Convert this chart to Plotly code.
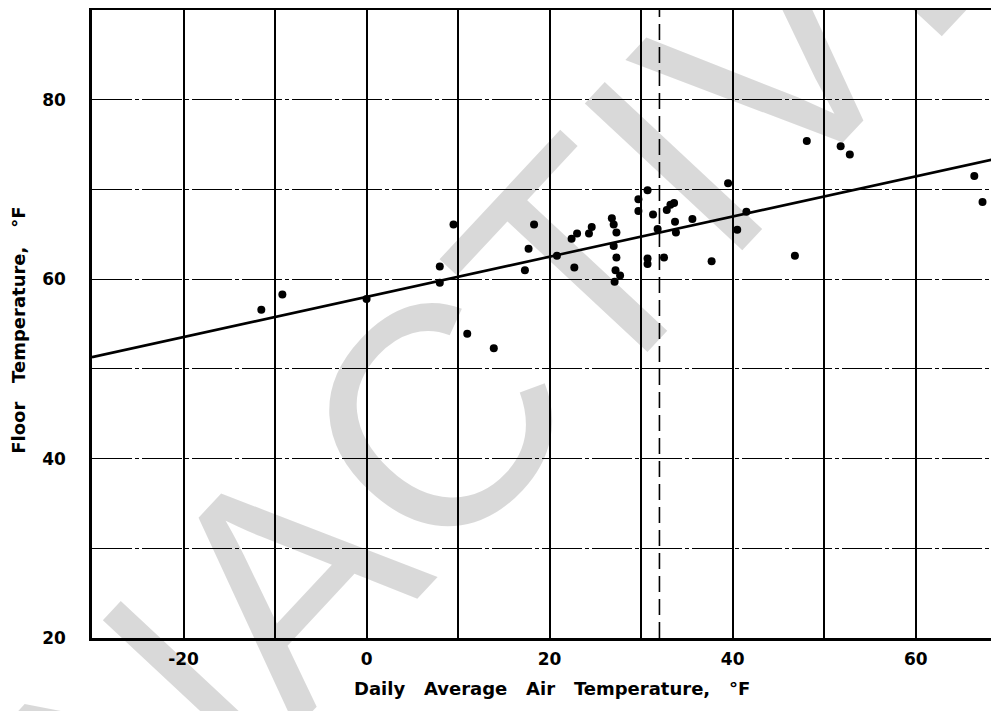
import plotly.graph_objects as go

# Daily average air temperature (°F) vs floor temperature (°F)
air_temp = [-11.5, -9.2, 0.0, 8.0, 8.0, 9.5, 11.0, 13.9, 17.3, 17.7,
            18.3, 20.8, 22.7, 22.4, 23.0, 24.3, 24.6, 26.8, 27.0, 27.3,
            27.0, 27.3, 27.2, 27.7, 27.1, 29.7, 29.7, 30.7, 31.3, 30.7,
            30.7, 31.8, 32.5, 32.8, 33.2, 33.6, 33.7, 33.8, 35.6, 37.7,
            39.5, 40.5, 41.5, 46.8, 48.1, 51.8, 52.8, 66.4, 67.3]
floor_temp = [56.6, 58.3, 57.8, 61.4, 59.6, 66.1, 53.9, 52.3, 61.0, 63.4,
              66.1, 62.6, 61.3, 64.5, 65.1, 65.1, 65.8, 66.8, 66.1, 65.2,
              63.7, 62.4, 61.0, 60.4, 59.7, 68.9, 67.6, 69.9, 67.2, 62.3,
              61.7, 65.6, 62.4, 67.7, 68.3, 68.5, 66.4, 65.2, 66.7, 62.0,
              70.7, 65.5, 67.5, 62.6, 75.4, 74.8, 73.9, 71.5, 68.6]

# regression line end points
fit_x = [-30, 70]
fit_y = [51.3, 73.7]

freeze_x = 32

x_ticks = [-30, -20, -10, 0, 10, 20, 30, 40, 50, 60, 70]
x_labels = ["", "-20", "", "0", "", "20", "", "40", "", "60", ""]
y_ticks = [20, 30, 40, 50, 60, 70, 80, 90]
y_labels = ["20", "", "40", "", "60", "", "80", ""]

font_family = "DejaVu Sans"
gap = "\u00a0\u00a0\u00a0"

fig = go.Figure()

fig.add_trace(go.Scatter(x=fit_x, y=fit_y, mode="lines",
                         line=dict(color="black", width=2.6),
                         hoverinfo="skip", showlegend=False))

fig.add_trace(go.Scatter(x=air_temp, y=floor_temp, mode="markers",
                         marker=dict(color="black", size=8),
                         showlegend=False))

fig.add_vline(x=freeze_x, line=dict(color="black", width=1.6, dash="16px,7px"))

fig.update_xaxes(range=[-30, 69.1], tickvals=x_ticks, ticktext=x_labels,
                 showgrid=True, gridcolor="black", gridwidth=1.8, zeroline=False,
                 showline=True, linecolor="black", linewidth=2.5, mirror=True,
                 ticks="", ticklabelstandoff=4,
                 tickfont=dict(family=font_family, size=17, color="black", weight="bold"))

fig.update_yaxes(range=[20, 90], tickvals=y_ticks, ticktext=y_labels,
                 showgrid=True, gridcolor="black", gridwidth=1.3,
                 griddash="40px,3px,4px,3px", zeroline=False,
                 showline=True, linecolor="black", linewidth=2.5,
                 ticks="", ticklabelstandoff=20,
                 tickfont=dict(family=font_family, size=17, color="black", weight="bold"))

fig.add_annotation(text=gap.join(["Daily", "Average", "Air", "Temperature,", "\u00b0F"]),
                   xref="paper", yref="paper", x=0.507, y=-0.08,
                   xanchor="center", yanchor="middle", showarrow=False,
                   font=dict(family=font_family, size=18, color="black", weight="bold"))

fig.add_annotation(text=gap.join(["Floor", "Temperature,", "\u00b0F"]),
                   xref="paper", yref="paper", x=-0.081, y=0.49, textangle=-90,
                   xanchor="center", yanchor="middle", showarrow=False,
                   font=dict(family=font_family, size=18, color="black", weight="bold"))

# "INACTIVE" watermark stamped across the page
fig.add_annotation(text="INACTIVE", xref="paper", yref="paper", x=0.444, y=0.449,
                   xanchor="center", yanchor="middle", showarrow=False, textangle=-47,
                   font=dict(family="Liberation Sans", size=313, color="rgba(0,0,0,0.15)"))

# the page body adds an 8px offset, so margins are trimmed by that amount
fig.update_layout(width=991, height=703,
                  margin=dict(l=84, r=0, t=2, b=73),
                  plot_bgcolor="white", paper_bgcolor="white",
                  font=dict(family=font_family, color="black"))

fig.write_html("out.html")
